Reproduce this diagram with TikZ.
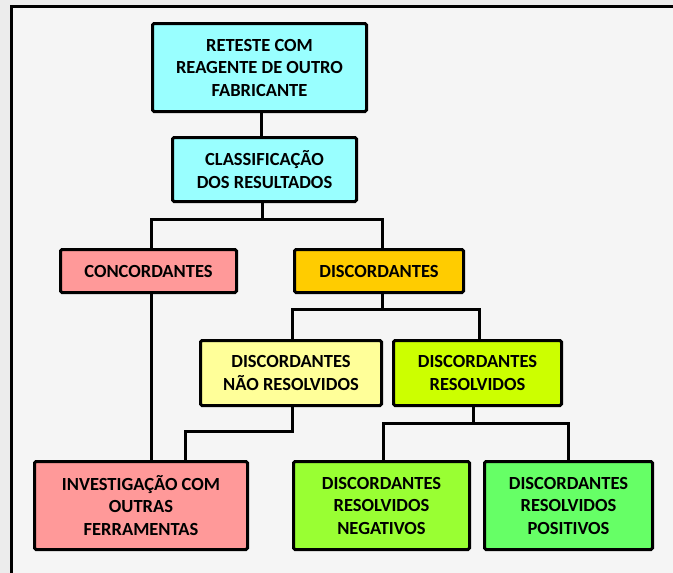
\documentclass[tikz,border=0pt]{standalone}
\usepackage{fontspec}
\setmainfont{Carlito}
\usepackage{xcolor}
\usetikzlibrary{arrows.meta,positioning,calc}
\definecolor{outerbg}{HTML}{ECECEC}
\definecolor{innerbg}{HTML}{F5F5F5}
\definecolor{cyanbox}{HTML}{99FFFF}
\definecolor{redbox}{HTML}{FF9999}
\definecolor{orangebox}{HTML}{FFCC00}
\definecolor{yellowbox}{HTML}{FFFF99}
\definecolor{limebox}{HTML}{CCFF00}
\definecolor{greenbox}{HTML}{99FF33}
\definecolor{mintbox}{HTML}{66FF66}
\tikzset{
  stagebox/.style={rectangle,draw,line width=3pt,rounded corners=1.5pt,align=center,
    inner sep=2pt,font=\fontsize{18.5}{22.5}\selectfont\bfseries},
  linkline/.style={line width=3pt}
}

\begin{document}
\begin{tikzpicture}[x=1pt,y=-1pt]
  \useasboundingbox (0,0) rectangle (673,573);
  \fill[outerbg] (0,0) rectangle (673,573);
  \fill[innerbg] (11.5,6.5) rectangle (673,573);
  \draw[line width=3pt] (11.5,573) -- (11.5,6.5) -- (673,6.5);
  \node[stagebox,fill=cyanbox,minimum width=214pt,minimum height=88pt] (ret) at (259.5,67.5)
    {RETESTE COM\\REAGENTE DE OUTRO\\FABRICANTE};
  \node[stagebox,fill=cyanbox,minimum width=184pt,minimum height=64pt] (cls) at (264.5,169.5)
    {CLASSIFICAÇÃO\\DOS RESULTADOS};
  \node[stagebox,fill=redbox,minimum width=176pt,minimum height=43pt] (conc) at (148.5,271)
    {CONCORDANTES};
  \node[stagebox,fill=orangebox,minimum width=169pt,minimum height=43pt] (disc) at (379,271)
    {DISCORDANTES};
  \node[stagebox,fill=yellowbox,minimum width=181pt,minimum height=65pt] (nres) at (291,373)
    {DISCORDANTES\\NÃO RESOLVIDOS};
  \node[stagebox,fill=limebox,minimum width=168pt,minimum height=65pt] (res) at (477.5,373)
    {DISCORDANTES\\RESOLVIDOS};
  \node[stagebox,fill=redbox,minimum width=213pt,minimum height=88pt] (inv) at (141,505.5)
    {INVESTIGAÇÃO COM\\OUTRAS\\FERRAMENTAS};
  \node[stagebox,fill=greenbox,minimum width=176pt,minimum height=88pt] (neg) at (381.5,505.5)
    {DISCORDANTES\\RESOLVIDOS\\NEGATIVOS};
  \node[stagebox,fill=mintbox,minimum width=168pt,minimum height=88pt] (pos) at (568.5,505.5)
    {DISCORDANTES\\RESOLVIDOS\\POSITIVOS};
  \draw[linkline] ([xshift=1.5pt]ret.south) -- ([xshift=1.5pt]ret.south |- cls.north);
  \draw[linkline] ([xshift=-2.5pt]cls.south) -- ++(0,16) coordinate (j1);
  \draw[linkline] ([xshift=2.5pt]conc.north) |- (j1) -| ([xshift=3pt]disc.north);
  \draw[linkline] ([xshift=3pt]disc.south) -- ++(0,15) coordinate (j2);
  \draw[linkline] ([xshift=1.5pt]nres.north) |- (j2) -| ([xshift=1.5pt]res.north);
  \draw[linkline] ([xshift=2.5pt]conc.south) -- ([xshift=2.5pt]conc.south |- inv.north);
  \draw[linkline] ([xshift=1pt]nres.south) -- ++(0,24) -| ([xshift=44pt]inv.north);
  \draw[linkline] ([xshift=-4.5pt]res.south) -- ++(0,16) coordinate (j3);
  \draw[linkline] ([xshift=1.5pt]neg.north) |- (j3) -| (pos.north);
\end{tikzpicture}
\end{document}
